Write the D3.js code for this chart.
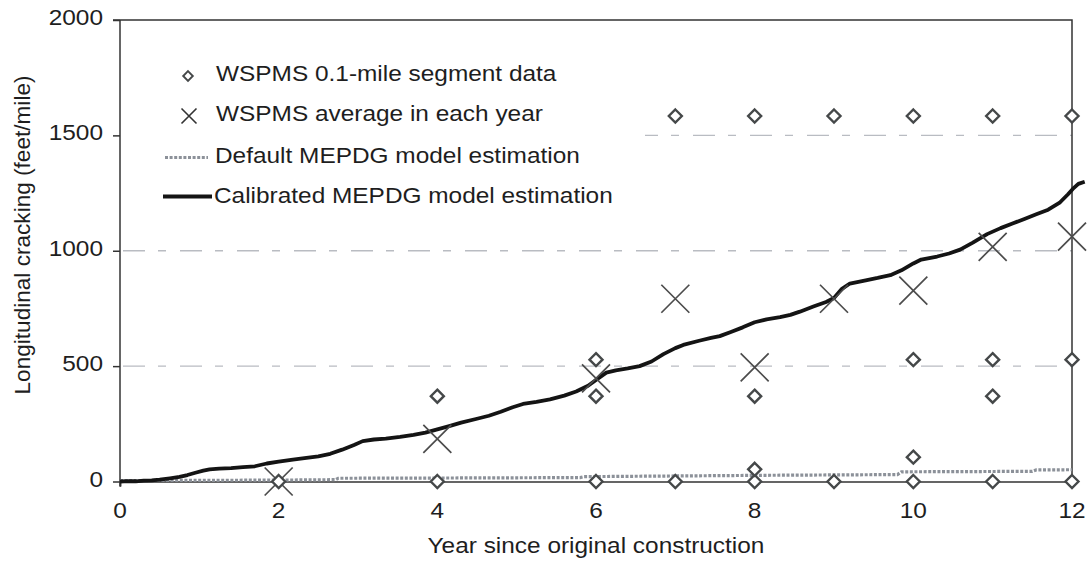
<!DOCTYPE html>
<html>
<head>
<meta charset="utf-8">
<script src="https://cdn.jsdelivr.net/npm/d3@7"></script>
<style>
  html, body { margin: 0; padding: 0; background: #fff; }
  svg { display: block; font-family: "Liberation Sans", Arial, sans-serif; }
</style>
</head>
<body>
<svg id="chart" width="1091" height="561"></svg>
<script>
// Axis ticks
const xTicks = [0, 2, 4, 6, 8, 10, 12];
const yTicks = [0, 500, 1000, 1500, 2000];
const gridValues = [500, 1000, 1500];

// WSPMS 0.1-mile segment observations (year, feet/mile)
const segmentYears  = [2, 4, 4, 6, 6, 6, 7, 7, 8, 8, 8, 8, 9, 9, 10, 10, 10, 10, 11, 11, 11, 11, 12, 12, 12];
const segmentValues = [0, 0, 369.6, 0, 369.6, 528, 0, 1584, 0, 52.8, 369.6, 1584, 0, 1584, 0, 105.6, 528, 1584, 0, 369.6, 528, 1584, 0, 528, 1584];

// WSPMS yearly averages
const averageYears  = [2, 4, 6, 7, 8, 9, 10, 11, 12];
const averageValues = [0, 185, 447, 792, 495, 792, 827, 1017, 1061];

// Default MEPDG model estimation
const defaultYears  = [0, 1, 2, 2.72, 2.75, 4, 5.8, 5.85, 7, 8.2, 9.8, 9.85, 11.5, 11.55, 12];
const defaultValues = [4, 5, 6, 8, 14, 15, 17, 21, 24, 27, 30, 42, 44, 50, 51];

// Calibrated MEPDG model estimation
const calibratedYears = [0.00, 0.10, 0.20, 0.30, 0.40, 0.50, 0.63, 0.75, 0.85, 0.95, 1.05, 1.13, 1.25, 1.40, 1.55, 1.70, 1.85, 2.00, 2.18, 2.35,
  2.50, 2.65, 2.80, 2.95, 3.06, 3.20, 3.35, 3.53, 3.70, 3.85, 4.00, 4.15, 4.30, 4.50, 4.65, 4.80, 4.95, 5.08, 5.25, 5.42,
  5.60, 5.75, 5.90, 6.00, 6.13, 6.25, 6.40, 6.55, 6.70, 6.85, 7.00, 7.10, 7.30, 7.45, 7.56, 7.70, 7.85, 8.00, 8.15, 8.32,
  8.45, 8.57, 8.74, 8.90, 9.00, 9.10, 9.20, 9.40, 9.55, 9.71, 9.85, 10.00, 10.10, 10.30, 10.45, 10.59, 10.75, 10.93, 11.10, 11.25,
  11.40, 11.55, 11.70, 11.85, 11.95, 12.01, 12.08, 12.16];
const calibratedValues = [0, 2, 1, 4, 5, 8, 14, 20, 28, 38, 47, 53, 56, 58, 62, 66, 78, 86, 95, 102,
  109, 120, 138, 158, 175, 182, 186, 193, 202, 212, 226, 240, 255, 272, 285, 302, 322, 336, 345, 356,
  372, 390, 415, 440, 472, 482, 490, 500, 520, 552, 578, 592, 610, 622, 630, 648, 668, 690, 703, 712,
  722, 736, 758, 778, 795, 835, 858, 872, 882, 894, 915, 945, 962, 975, 988, 1005, 1035, 1072, 1098, 1118,
  1138, 1158, 1178, 1210, 1245, 1268, 1290, 1299];

const legendLabels = [
  "WSPMS 0.1-mile segment data",
  "WSPMS average in each year",
  "Default MEPDG model estimation",
  "Calibrated MEPDG model estimation"
];
const xTitle = "Year since original construction";
const yTitle = "Longitudinal cracking (feet/mile)";

// ---- layout ----
const svg = d3.select("#chart");
const plotLeft = 120, plotRight = 1072, plotTop = 20, plotBottom = 481.5;
const x = d3.scaleLinear().domain([0, 12]).range([plotLeft, plotRight]);
const y = d3.scaleLinear().domain([0, 2000]).range([plotBottom, plotTop]);
const FONT = 22.6, STRETCH = 1.08, TEXT = "#1e1e1e";

function label(g, px, py, str, anchor, size) {
  return g.append("text")
    .attr("transform", `translate(${px},${py}) scale(${STRETCH},1)`)
    .attr("text-anchor", anchor || "start")
    .attr("font-size", size || FONT)
    .attr("fill", TEXT)
    .text(str);
}

// gridlines
svg.append("g").selectAll("line").data(gridValues).join("line")
  .attr("x1", plotLeft).attr("x2", plotRight)
  .attr("y1", d => y(d)).attr("y2", d => y(d))
  .attr("stroke", "#b9bcc2").attr("stroke-width", 1.4)
  .attr("stroke-dasharray", "22,13,8,14")
  .attr("stroke-dashoffset", -3);

// frame
const frame = svg.append("g").attr("stroke", "#333").attr("stroke-width", 1.5).attr("fill", "none");
frame.append("path").attr("d", `M${plotLeft - 7},${plotTop}H${plotRight}V${plotBottom}`);
frame.append("line").attr("x1", plotLeft).attr("x2", plotLeft).attr("y1", plotTop).attr("y2", plotBottom + 5);

// y axis
const yAxis = svg.append("g").attr("transform", `translate(${plotLeft},0)`)
  .call(d3.axisLeft(y).tickValues(yTicks).tickSize(7).tickPadding(0).tickFormat(""));
yAxis.select(".domain").remove();
yAxis.selectAll(".tick line").attr("stroke", "#333").attr("stroke-width", 1.5);
const yLab = svg.append("g");
yTicks.forEach(v => label(yLab, 103, y(v) + 5, String(v), "end"));

// x axis
const xAxis = svg.append("g").attr("transform", `translate(0,${plotBottom})`)
  .call(d3.axisBottom(x).tickValues(xTicks).tickSize(5).tickFormat(""));
xAxis.select(".domain").attr("stroke", "#333").attr("stroke-width", 1.5);
xAxis.selectAll(".tick line").attr("stroke", "#333").attr("stroke-width", 1.5);
const xLab = svg.append("g");
xTicks.forEach(v => label(xLab, x(v), 518, String(v), "middle"));

// axis titles
label(svg, 596, 553, xTitle, "middle");
svg.append("text")
  .attr("transform", `translate(30,235) rotate(-90)`)
  .attr("text-anchor", "middle").attr("font-size", FONT).attr("fill", TEXT)
  .text(yTitle);

// legend background
svg.append("rect").attr("x", plotLeft + 1).attr("y", plotTop + 1).attr("width", 524).attr("height", 198).attr("fill", "#fff");

// default estimation (dotted)
const line = d3.line().x(d => x(d[0])).y(d => y(d[1]));
svg.append("path")
  .datum(d3.zip(defaultYears, defaultValues))
  .attr("d", line).attr("fill", "none")
  .attr("stroke", "#8c9199").attr("stroke-width", 3.2).attr("stroke-dasharray", "3,1.6");

// calibrated estimation
svg.append("path")
  .datum(d3.zip(calibratedYears, calibratedValues))
  .attr("d", line).attr("fill", "none")
  .attr("stroke", "#141414").attr("stroke-width", 3.8).attr("stroke-linejoin", "round");

// averages (X)
const crossPath = r => `M${-r},${-r}L${r},${r}M${-r},${r}L${r},${-r}`;
svg.append("g").selectAll("path").data(d3.zip(averageYears, averageValues)).join("path")
  .attr("transform", d => `translate(${x(d[0])},${y(d[1])})`)
  .attr("d", crossPath(14))
  .attr("stroke", "#4c4c4c").attr("stroke-width", 1.7).attr("fill", "none");

// segment data (diamonds)
const diamondPath = r => `M0,${-r}L${r},0L0,${r}L${-r},0Z`;
svg.append("g").selectAll("path").data(d3.zip(segmentYears, segmentValues)).join("path")
  .attr("transform", d => `translate(${x(d[0])},${y(d[1])})`)
  .attr("d", diamondPath(6.5))
  .attr("stroke", "#454849").attr("stroke-width", 2.4).attr("fill", "#fff");

// legend
const lg = svg.append("g");
lg.append("path").attr("transform", "translate(188,76)").attr("d", diamondPath(4.8))
  .attr("stroke", "#454849").attr("stroke-width", 1.9).attr("fill", "#fff");
lg.append("path").attr("transform", "translate(189,116)").attr("d", crossPath(7.5))
  .attr("stroke", "#333").attr("stroke-width", 1.6).attr("fill", "none");
lg.append("line").attr("x1", 165).attr("x2", 208).attr("y1", 157.5).attr("y2", 157.5)
  .attr("stroke", "#8c9199").attr("stroke-width", 3.2).attr("stroke-dasharray", "3,1.6");
lg.append("line").attr("x1", 163).attr("x2", 212).attr("y1", 196.5).attr("y2", 196.5)
  .attr("stroke", "#141414").attr("stroke-width", 3.8);
label(lg, 216, 81, legendLabels[0]);
label(lg, 216, 121, legendLabels[1]);
label(lg, 215, 163, legendLabels[2]);
label(lg, 214, 203, legendLabels[3]);
</script>
</body>
</html>
